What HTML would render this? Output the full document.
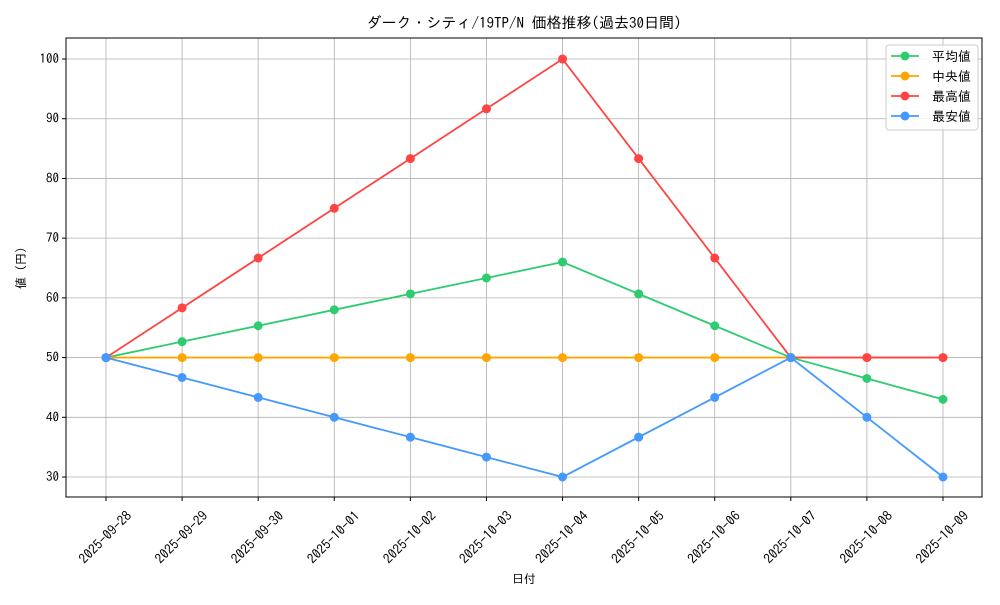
<!DOCTYPE html>
<html><head><meta charset="utf-8"><style>
body{margin:0;background:#fff;}
svg text{font-family:"IPAGothic","Liberation Sans","Noto Sans CJK JP",sans-serif;fill:#000;}
</style></head><body>
<svg id="s" width="1000" height="600" xmlns="http://www.w3.org/2000/svg"></svg>
<script>
const s=document.getElementById('s');
const L=66,R=982,T=38,B=497;
const X=i=>106+i*76.09, Y=v=>477-(v-30)*5.971;
let h='<rect width="1000" height="600" fill="#fff"/>';
const dates=['2025-09-28','2025-09-29','2025-09-30','2025-10-01','2025-10-02','2025-10-03','2025-10-04','2025-10-05','2025-10-06','2025-10-07','2025-10-08','2025-10-09'];
for(let i=0;i<12;i++){const x=X(i);h+=`<line x1="${x}" y1="${T}" x2="${x}" y2="${B}" stroke="#b0b0b0" stroke-width="0.8"/>`;
h+=`<line x1="${x}" y1="${B}" x2="${x}" y2="${B+4}" stroke="#000"/>`;
h+=`<text font-size="13.5" text-anchor="middle" dominant-baseline="central" transform="translate(${x-1},${B+40}) rotate(-45)">${dates[i]}</text>`;}
for(let v=30;v<=100;v+=10){const y=Y(v);h+=`<line x1="${L}" y1="${y}" x2="${R}" y2="${y}" stroke="#b0b0b0" stroke-width="0.8"/>`;
h+=`<line x1="${L-4}" y1="${y}" x2="${L}" y2="${y}" stroke="#000"/>`;
h+=`<text x="${L-7}" y="${y+4}" font-size="13" text-anchor="end">${v}</text>`;}
const series=[
['平均値','#2ecc71',[50,52.67,55.33,58,60.67,63.33,66,60.67,55.33,50,46.5,43]],
['中央値','#ffa500',[50,50,50,50,50,50,50,50,50,50,50,50]],
['最高値','#ff4444',[50,58.33,66.67,75,83.33,91.67,100,83.33,66.67,50,50,50]],
['最安値','#4499ff',[50,46.67,43.33,40,36.67,33.33,30,36.67,43.33,50,40,30]]];
for(const [n,c,d] of series){h+=`<polyline fill="none" stroke="${c}" stroke-width="1.8" points="${d.map((v,i)=>X(i)+','+Y(v)).join(' ')}"/>`;
d.forEach((v,i)=>h+=`<circle cx="${X(i)}" cy="${Y(v)}" r="4.5" fill="${c}"/>`);}
h+=`<rect x="${L}" y="${T}" width="${R-L}" height="${B-T}" fill="none" stroke="#000" stroke-width="1"/>`;
h+=`<rect x="886" y="45" width="92" height="85" rx="3" fill="#fff" fill-opacity="0.8" stroke="#ccc"/>`;
series.forEach(([n,c],k)=>{const y=56+k*20;h+=`<line x1="891" y1="${y}" x2="919" y2="${y}" stroke="${c}" stroke-width="1.8"/><circle cx="905" cy="${y}" r="4.5" fill="${c}"/><text x="932" y="${y+5}" font-size="13">${n}</text>`;});
h+=`<text x="524" y="28" font-size="15" text-anchor="middle">ダーク・シティ/19TP/N 価格推移(過去30日間)</text>`;
h+=`<text x="524" y="583" font-size="12" text-anchor="middle">日付</text>`;
h+=`<text font-size="12" text-anchor="middle" transform="translate(25,268) rotate(-90)">値 (円)</text>`;
s.innerHTML=h;
</script>
</body></html>
